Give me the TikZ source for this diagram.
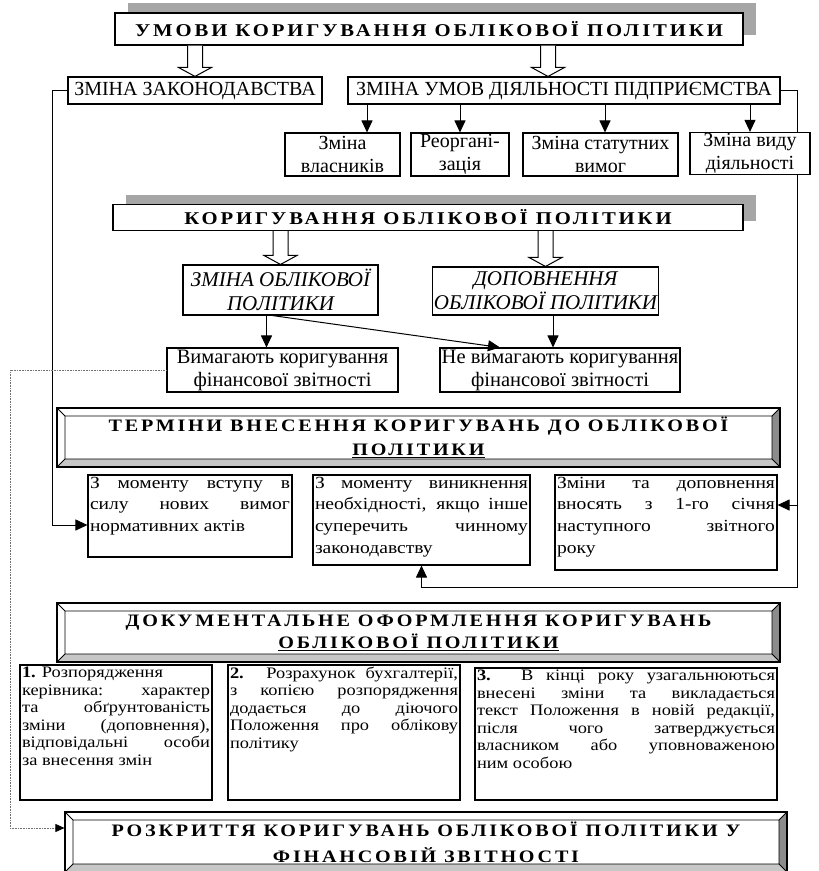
\documentclass[tikz,border=0pt]{standalone}
\usepackage{fontspec}
\setmainfont{Liberation Serif}
\usetikzlibrary{arrows.meta,positioning,calc,shadows,backgrounds}
\hyphenpenalty=10000
\tolerance=10000
\newcommand\boxtext[3]{\parbox[c][#1][t]{#2}{#3}}

\begin{document}
\begin{tikzpicture}[x=1pt, y=1pt, >={Triangle[length=12pt, width=11pt]},
  head/.style={draw, fill=white, line width=1.2pt, align=center,
    font=\fontsize{18}{22}\selectfont\bfseries\addfontfeature{LetterSpace=16, FakeStretch=1.15}},
  shadowed/.style={drop shadow={shadow xshift=13pt, shadow yshift=10pt,
    fill=black!35, opacity=1}},
  bevelbox/.style={draw, fill=white, line width=1.1pt, align=center,
    font=\fontsize{17.5}{22}\selectfont\bfseries\addfontfeature{LetterSpace=16, FakeStretch=1.15},
    path picture={
      \coordinate (bl) at (path picture bounding box.south west);
      \coordinate (tr) at (path picture bounding box.north east);
      \fill[black!45] (tr) -- (tr |- bl) -- ++(-8,8) -- ([shift={(-8,-8)}]tr) -- cycle;
      \fill[black!22] (bl) -- (tr |- bl) -- ++(-8,8) -- ([shift={(8,8)}]bl) -- cycle;
      \draw[line width=.8pt] ([shift={(8,8)}]bl) rectangle ([shift={(-8,-8)}]tr)
        (bl) -- ++(8,8) (tr) -- ++(-8,-8) (tr |- bl) -- ++(-8,8) (bl |- tr) -- ++(8,-8);
    }},
  cond/.style={draw, fill=white, line width=1.1pt, align=center, inner sep=1pt,
    font=\fontsize{20}{23}\selectfont},
  term/.style={draw, fill=white, line width=1.1pt, inner sep=2pt,
    font=\fontsize{17}{21.7}\selectfont\addfontfeature{FakeStretch=1.15}},
  docbox/.style={term, font=\fontsize{16}{17.5}\selectfont\addfontfeature{FakeStretch=1.15}},
  hollow/.style={draw, fill=white, line width=1pt,
    to path={let \p1=(\tikztostart), \p2=(\tikztotarget) in
      (\x1-7.5pt,\y1) -- (\x1-7.5pt,\y2+9pt) -- (\x1-16.5pt,\y2+9pt) -- (\x1,\y2)
      -- (\x1+16.5pt,\y2+9pt) -- (\x1+7.5pt,\y2+9pt) -- (\x1+7.5pt,\y1)}},
  arr/.style={->, line width=1pt},
  dots/.style={draw=black!55, line width=.6pt, densely dotted,
    -{Triangle[length=9pt, width=8pt, color=black]}}]
  \useasboundingbox (0,0) rectangle (819,-871);

  % conditions
  \node[head, shadowed, minimum width=628pt, minimum height=32pt] (umovy) at (429,-29)
    {УМОВИ КОРИГУВАННЯ ОБЛІКОВОЇ ПОЛІТИКИ};
  \node[cond, minimum width=254pt, minimum height=27pt] (zz) at (195,-90.5)
    {ЗМІНА ЗАКОНОДАВСТВА};
  \node[cond, minimum width=432pt, minimum height=27pt] (zu) at (564,-90.5)
    {ЗМІНА УМОВ ДІЯЛЬНОСТІ ПІДПРИЄМСТВА};
  \draw[hollow] (umovy.south -| zz.north) to (zz.north);
  \draw[hollow] ([xshift=-16pt]zu.north |- umovy.south) to ([xshift=-16pt]zu.north);

  \node[cond, minimum width=115pt, minimum height=43pt]
    (vl) at (342.5,-154.5) {Зміна\\власників};
  \node[cond, minimum width=98pt, minimum height=43pt]
    (reorg) at (460,-154.5) {Реоргані-\\зація};
  \node[cond, minimum width=155pt, minimum height=43pt]
    (stat) at (600.5,-154.5) {Зміна статутних\\вимог};
  \node[cond, minimum width=120pt, minimum height=41pt]
    (vyd) at (750,-153.5) {Зміна виду\\діяльності};
  \draw[arr] ([xshift=24.5pt]vl.north |- zu.south) -- ([xshift=24.5pt]vl.north);
  \draw[arr] (reorg.north |- zu.south) -- (reorg.north);
  \draw[arr] ([xshift=4.5pt]stat.north |- zu.south) -- ([xshift=4.5pt]stat.north);
  \draw[arr] (vyd.north |- zu.south) -- (vyd.north);

  % correction of the policy
  \node[head, shadowed, minimum width=630pt, minimum height=26pt] (kor) at (428,-217.5)
    {КОРИГУВАННЯ ОБЛІКОВОЇ ПОЛІТИКИ};
  \node[cond, font=\fontsize{21}{24}\selectfont\itshape, minimum width=195pt,
    minimum height=50pt] (zop) at (280.5,-290) {ЗМІНА ОБЛІКОВОЇ\\ПОЛІТИКИ};
  \node[cond, font=\fontsize{21}{24}\selectfont\itshape, minimum width=205pt,
    minimum height=48pt] (dop) at (545.5,-291) {ДОПОВНЕННЯ\\ОБЛІКОВОЇ ПОЛІТИКИ};
  \draw[hollow] (kor.south -| zop.north) to (zop.north);
  \draw[hollow] (kor.south -| dop.north) to (dop.north);

  \node[cond, font=\fontsize{20.5}{23}\selectfont, minimum width=231pt, minimum height=44pt]
    (vym) at (282.5,-370) {Вимагають коригування\\фінансової звітності};
  \node[cond, font=\fontsize{20.5}{23}\selectfont, minimum width=240pt, minimum height=44pt]
    (nvym) at (560,-370) {Не вимагають коригування\\фінансової звітності};
  \draw[arr] ([xshift=-14pt]zop.south) -- ([xshift=-14pt]zop.south |- vym.north);
  \draw[arr] ([xshift=-8pt]zop.south) -- ([xshift=-60pt]nvym.north);
  \draw[arr] ([xshift=7.5pt]dop.south) -- ([xshift=7.5pt]dop.south |- nvym.north);

  % terms
  \node[bevelbox, minimum width=723pt, minimum height=59pt] (ter) at (418.5,-437.5)
    {ТЕРМІНИ ВНЕСЕННЯ КОРИГУВАНЬ ДО ОБЛІКОВОЇ\\[2pt]\underline{ПОЛІТИКИ}};
  \node[term] (m1) at (190,-516) {\boxtext{78pt}{200pt}{З моменту вступу в\linebreak
    силу нових вимог\linebreak нормативних актів}};
  \node[term] (m2) at (421.5,-520) {\boxtext{86pt}{213pt}{З моменту виникнення\linebreak
    необхідності, якщо інше\linebreak суперечить чинному\linebreak законодавству}};
  \node[term] (m3) at (666,-522.5) {\boxtext{91pt}{218pt}{Зміни та доповнення\linebreak
    вносять з 1-го січня\linebreak наступного звітного\linebreak року}};

  \coordinate (rb) at (797,-587);
  \coordinate (dl) at (10,-828);
  \begin{scope}[on background layer]
    \draw[arr] (zz.west) -- ++(-15,0) |- ([yshift=-9pt]m1.west);
    \draw[arr] (zu.east) -| (rb) -| (m2.south);
    \draw[arr] ([yshift=17.5pt]m3.east -| rb) -- ([yshift=17.5pt]m3.east);
  \end{scope}

  % documents
  \node[bevelbox, minimum width=723pt, minimum height=59pt] (doc) at (418.5,-632.5)
    {ДОКУМЕНТАЛЬНЕ ОФОРМЛЕННЯ КОРИГУВАНЬ\\\underline{ОБЛІКОВОЇ ПОЛІТИКИ}};
  \node[docbox] (d1) at (116,-732.5) {\boxtext{131pt}{188pt}{\textbf{1.} Розпорядження\newline
    керівника: характер\linebreak та обґрунтованість\linebreak зміни (доповнення),\linebreak
    відповідальні особи\linebreak за внесення змін}};
  \node[docbox] (d2) at (344,-732.5) {\boxtext{131pt}{228pt}{\textbf{2.} Розрахунок бухгалтерії,\linebreak
    з копією розпорядження\linebreak додається до діючого\linebreak Положення про облікову\linebreak
    політику}};
  \node[docbox] (d3) at (626,-734) {\boxtext{128pt}{298pt}{\textbf{3.} В кінці року узагальнюються\linebreak
    внесені зміни та викладається\linebreak текст Положення в новій редакції,\linebreak
    після чого затверджується\linebreak власником або уповноваженою\linebreak ним особою}};

  \node[bevelbox, minimum width=722pt, minimum height=60pt] (roz) at (426,-842)
    {РОЗКРИТТЯ КОРИГУВАНЬ ОБЛІКОВОЇ ПОЛІТИКИ У\\[4pt]ФІНАНСОВІЙ ЗВІТНОСТІ};
  \draw[dots] (vym.west) -| (dl) -- ([yshift=14pt]roz.west);
\end{tikzpicture}
\end{document}
